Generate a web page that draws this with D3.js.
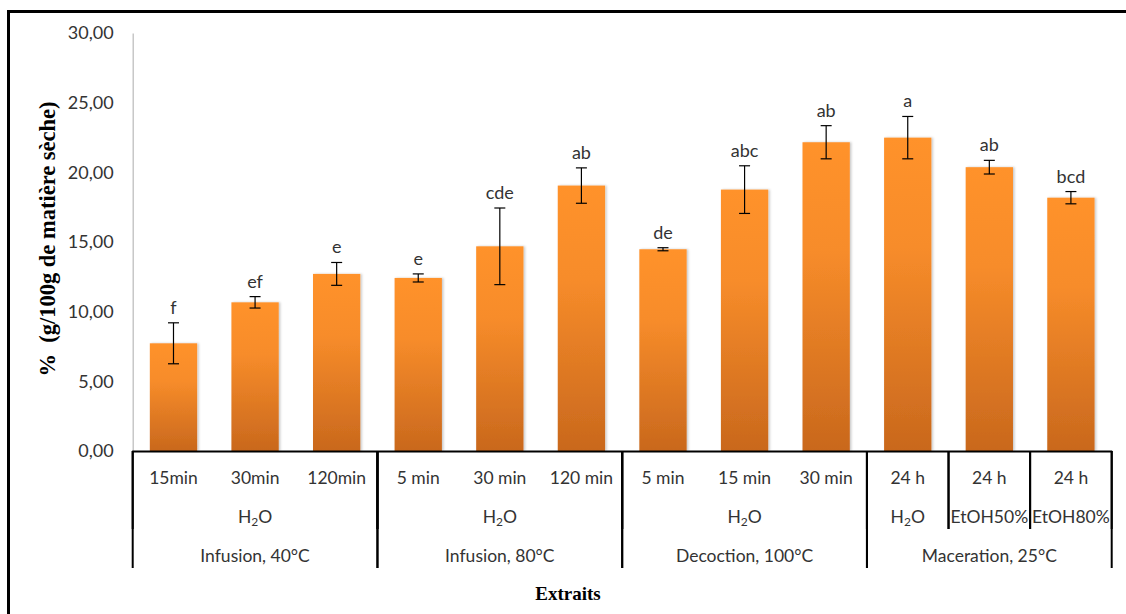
<!DOCTYPE html>
<html><head><meta charset="utf-8">
<script src="https://cdn.jsdelivr.net/npm/d3@7"></script>
<style>
html,body{margin:0;padding:0;background:#fff;}
svg{display:block;}
</style></head>
<body>
<svg id="chart" width="1126" height="614"></svg>
<script>
// ---- data ----
const timeLabels = ["15min","30min","120min","5 min","30 min","120 min","5 min","15 min","30 min","24 h","24 h","24 h"];
const solventLabels = ["H2O","H2O","H2O","H2O","H2O","H2O","H2O","H2O","H2O","H2O","EtOH50%","EtOH80%"];
const methodLabels = ["Infusion, 40°C","Infusion, 40°C","Infusion, 40°C","Infusion, 80°C","Infusion, 80°C","Infusion, 80°C","Decoction, 100°C","Decoction, 100°C","Decoction, 100°C","Maceration, 25°C","Maceration, 25°C","Maceration, 25°C"];
const values = [7.73, 10.67, 12.71, 12.42, 14.69, 19.05, 14.48, 18.76, 22.16, 22.49, 20.37, 18.18];
const errors = [1.47, 0.41, 0.82, 0.29, 2.75, 1.27, 0.11, 1.71, 1.19, 1.52, 0.49, 0.44];
const letters = ["f","ef","e","e","cde","ab","de","abc","ab","a","ab","bcd"];
const yTicks = [0, 5, 10, 15, 20, 25, 30];
const yTitle = "%  (g/100g de matière sèche)";
const xTitle = "Extraits";

// ---- layout ----
const svg = d3.select("#chart");
const left = 132.7, right = 1111.7, y0 = 451, yTop = 33;
const row1 = 484, row2 = 523, row3 = 562, tableBottom = 568, midBottom = 529;
const FONT = "Lato, 'Noto Sans', sans-serif";
const TXT = "#333333";

const idx = d3.range(values.length);
const x = d3.scaleBand().domain(idx).range([left, right]).paddingInner(0.42).paddingOuter(0.21);
const y = d3.scaleLinear().domain([0, 30]).range([y0, yTop]);

// frame
svg.append("path").attr("d", "M8.5,614 L8.5,11.5 L1126,11.5").attr("fill","none").attr("stroke","#000").attr("stroke-width",3);

// defs
const defs = svg.append("defs");
const grad = defs.append("linearGradient").attr("id","barGrad").attr("x1",0).attr("y1",0).attr("x2",0).attr("y2",1);
grad.append("stop").attr("offset","0%").attr("stop-color","#ff922c");
grad.append("stop").attr("offset","35%").attr("stop-color","#f78c2a");
grad.append("stop").attr("offset","100%").attr("stop-color","#c9681d");
const f = defs.append("filter").attr("id","shadow").attr("x","-20%").attr("y","-5%").attr("width","140%").attr("height","110%");
f.append("feDropShadow").attr("dx",1.5).attr("dy",0).attr("stdDeviation",1.2).attr("flood-color","#000").attr("flood-opacity",0.22);

// y axis
const yAxis = d3.axisLeft(y).tickValues(yTicks).tickSize(0).tickPadding(19)
  .tickFormat(d => d3.format(".2f")(d).replace(".", ","));
const gy = svg.append("g").attr("transform", `translate(${left},0)`).call(yAxis);
gy.select(".domain").attr("stroke","#bfbfbf").attr("stroke-width",1.3);
gy.selectAll("text").attr("font-family", FONT).attr("font-size", 18).attr("fill",TXT);

// bars
svg.append("g").selectAll("rect").data(idx).join("rect")
  .attr("x", i => x(i)).attr("width", x.bandwidth())
  .attr("y", i => y(values[i])).attr("height", i => y0 - y(values[i]))
  .attr("fill","url(#barGrad)").attr("filter","url(#shadow)");

// error bars
const eb = svg.append("g").attr("stroke","#000").attr("stroke-width",1.2);
idx.forEach(i => {
  const cx = x(i) + x.bandwidth()/2;
  const hi = y(values[i] + errors[i]), lo = y(values[i] - errors[i]);
  eb.append("line").attr("x1",cx).attr("x2",cx).attr("y1",hi).attr("y2",lo);
  eb.append("line").attr("x1",cx-5.5).attr("x2",cx+5.5).attr("y1",hi).attr("y2",hi);
  eb.append("line").attr("x1",cx-5.5).attr("x2",cx+5.5).attr("y1",lo).attr("y2",lo);
});

// significance letters
svg.append("g").selectAll("text").data(idx).join("text")
  .attr("x", i => x(i) + x.bandwidth()/2)
  .attr("y", i => y(values[i] + errors[i]) - 9)
  .attr("text-anchor","middle").attr("font-family",FONT).attr("font-size",18).attr("fill",TXT)
  .text(i => letters[i]);

// category table
const step = x.step();
const tbl = svg.append("g");
tbl.append("line").attr("x1", left-0.5).attr("x2", right+0.5).attr("y1", y0+0.5).attr("y2", y0+0.5).attr("stroke","#000").attr("stroke-width",2);

// level 1 (time) labels
tbl.selectAll("text.t").data(idx).join("text").attr("class","t")
  .attr("x", i => x(i) + x.bandwidth()/2).attr("y", row1)
  .attr("text-anchor","middle").attr("font-family",FONT).attr("font-size",17.5).attr("fill",TXT)
  .text(i => timeLabels[i]);

// groups
function groupsBy(keyFn){
  const gs = [];
  idx.forEach(i => {
    const k = keyFn(i);
    if (gs.length && gs[gs.length-1].key === k) gs[gs.length-1].end = i;
    else gs.push({key:k, start:i, end:i});
  });
  return gs;
}
const methodGroups = groupsBy(i => methodLabels[i]);
const solventGroups = groupsBy(i => methodLabels[i] + "|" + solventLabels[i]);
const bandLeft = i => x(i) - (step - x.bandwidth())/2;
const bandRight = i => bandLeft(i) + step;

function drawLabel(txt, cx, cy){
  const t = tbl.append("text").attr("x",cx).attr("y",cy).attr("text-anchor","middle")
    .attr("font-family",FONT).attr("font-size",17.5).attr("fill",TXT);
  if (txt === "H2O"){
    t.append("tspan").text("H");
    t.append("tspan").text("2").attr("font-size",12).attr("dy",3);
    t.append("tspan").text("O").attr("dy",-3);
  } else t.text(txt);
}

solventGroups.forEach(g => {
  const a = bandLeft(g.start), b = bandRight(g.end);
  drawLabel(solventLabels[g.start], (a+b)/2, row2);
  tbl.append("line").attr("x1",a).attr("x2",a).attr("y1",y0).attr("y2",midBottom).attr("stroke","#000").attr("stroke-width",2);
  tbl.append("line").attr("x1",b).attr("x2",b).attr("y1",y0).attr("y2",midBottom).attr("stroke","#000").attr("stroke-width",2);
});
methodGroups.forEach(g => {
  const a = bandLeft(g.start), b = bandRight(g.end);
  drawLabel(methodLabels[g.start], (a+b)/2, row3);
  tbl.append("line").attr("x1",a).attr("x2",a).attr("y1",y0).attr("y2",tableBottom).attr("stroke","#000").attr("stroke-width",2);
  tbl.append("line").attr("x1",b).attr("x2",b).attr("y1",y0).attr("y2",tableBottom).attr("stroke","#000").attr("stroke-width",2);
});

// axis titles
svg.append("text").attr("transform","translate(55,239) rotate(-90)").attr("text-anchor","middle")
  .style("white-space","pre")
  .attr("font-family","'Liberation Serif','Times New Roman',serif").attr("font-weight","bold").attr("font-size",22.5)
  .attr("fill","#000").text(yTitle);
svg.append("text").attr("x",568).attr("y",600).attr("text-anchor","middle")
  .attr("font-family","'Liberation Serif','Times New Roman',serif").attr("font-weight","bold").attr("font-size",19)
  .attr("fill","#000").text(xTitle);
</script>
</body></html>
